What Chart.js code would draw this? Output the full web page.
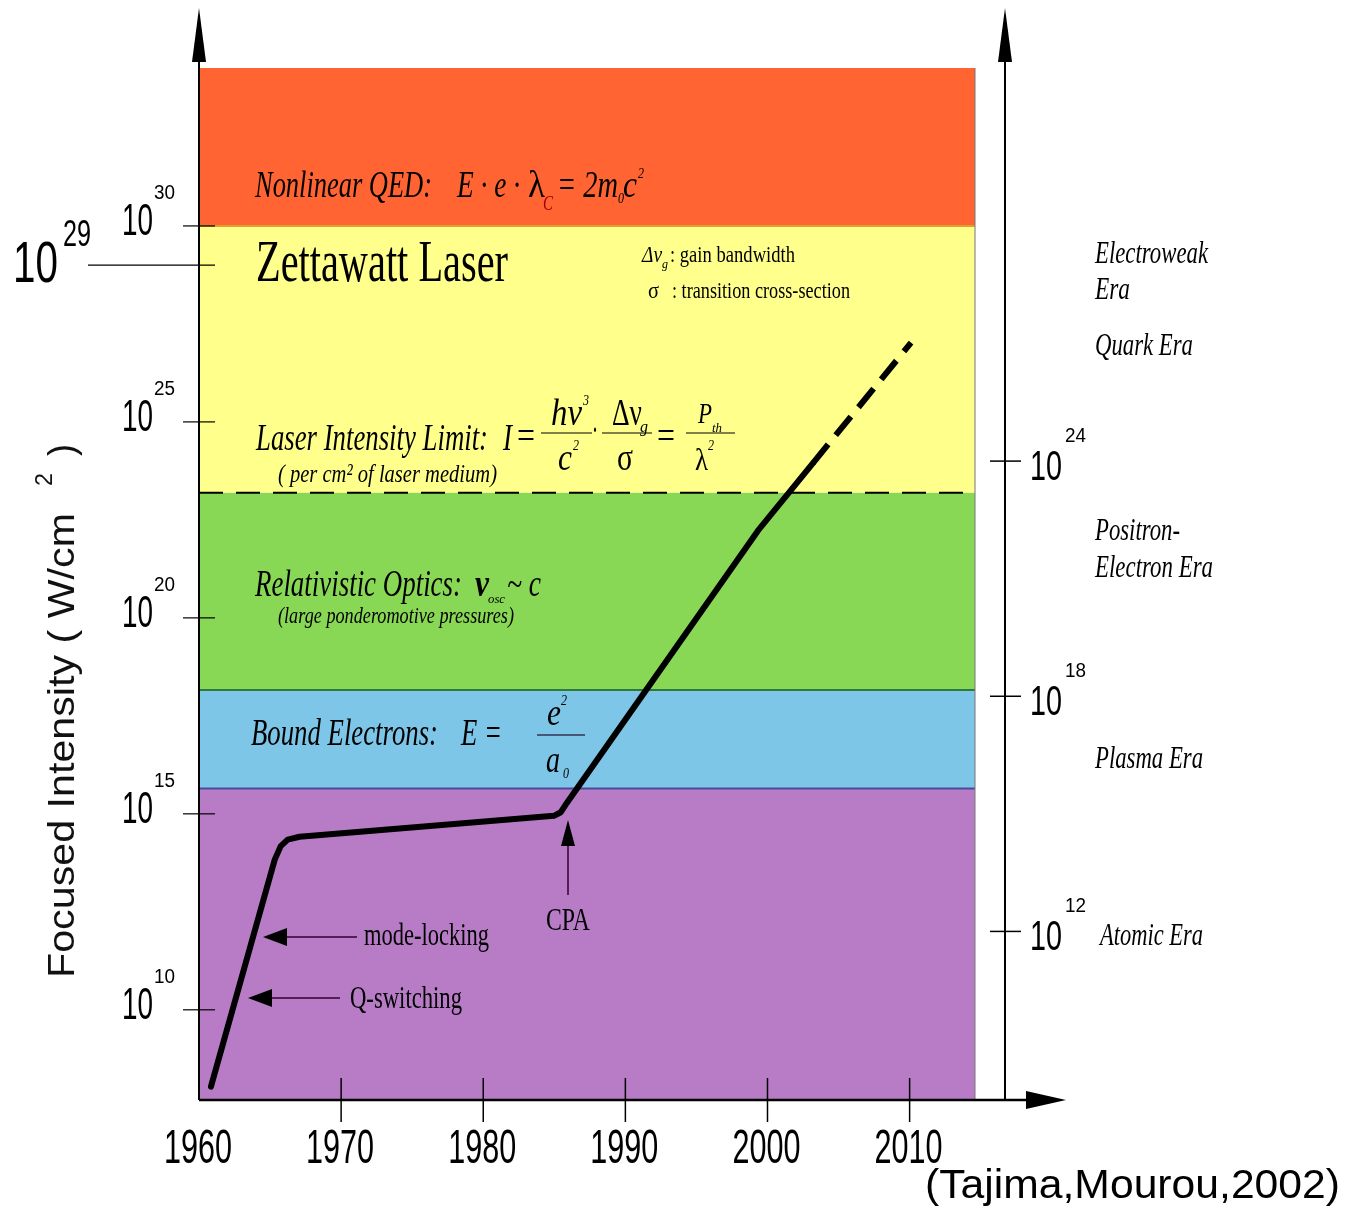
<!DOCTYPE html>
<html>
<head>
<meta charset="utf-8">
<script src="https://cdn.jsdelivr.net/npm/chart.js@4.4.0/dist/chart.umd.min.js"></script>
<style>
  body { margin: 0; background: #fff; }
  canvas { display: block; }
</style>
</head>
<body>
<canvas id="chart" width="1349" height="1209"></canvas>
<script>
// laser peak intensity history
const years = [1960.84, 1965.33, 1965.75, 1966.24, 1967.08, 1984.97, 1985.46, 1985.88, 1999.34, 2003.2];
const intensity = [1.1e8, 6.8e13, 1.5e14, 2.2e14, 2.6e14, 8.9e14, 1.1e15, 1.9e15, 1.7e22, 8.9e23];
const projYears = [2003.2, 2010.1];
const projIntensity = [8.9e23, 1.05e27];

// regime bands, top to bottom
const bandEdges = [1.07e34, 1e30, 1.55e23, 1.45e18, 4.4e15, 5e7];
const bandColors = ['#FF6432', '#FFFF8C', '#88D856', '#7EC6E8', '#B77CC5'];
const bandLines = ['#E0A030', null, '#2E7A3C', '#4A4A9A'];
const limitIntensity = 1.55e23;

const yearTicks = [1960, 1970, 1980, 1990, 2000, 2010];
const leftTickExp = [10, 15, 20, 25, 30];
const rightTickExp = [12, 18, 24];
const bigTickExp = 29;

const ctxEl = document.getElementById('chart');

function fit(ctx, str, x, y, w, font, color) {
    ctx.save();
    ctx.font = font;
    const m = ctx.measureText(str).width;
    ctx.translate(x, y);
    ctx.scale(w / m, 1);
    ctx.fillStyle = color || '#000';
    ctx.textAlign = 'left';
    ctx.textBaseline = 'alphabetic';
    ctx.fillText(str, 0, 0);
    ctx.restore();
}

function line(ctx, x1, y1, x2, y2, w, color) {
    ctx.save();
    ctx.strokeStyle = color || '#000';
    ctx.lineWidth = w;
    ctx.beginPath();
    ctx.moveTo(x1, y1);
    ctx.lineTo(x2, y2);
    ctx.stroke();
    ctx.restore();
}

function tri(ctx, pts) {
    ctx.save();
    ctx.fillStyle = '#000';
    ctx.beginPath();
    ctx.moveTo(pts[0], pts[1]);
    ctx.lineTo(pts[2], pts[3]);
    ctx.lineTo(pts[4], pts[5]);
    ctx.closePath();
    ctx.fill();
    ctx.restore();
}

const SI = 'italic 38px "Liberation Serif"';
const SR = '38px "Liberation Serif"';
const SANS = '"Liberation Sans"';

const bandsPlugin = {
    id: 'bands',
    beforeDatasetsDraw(chart) {
        const { ctx, chartArea: a, scales: { y } } = chart;
        ctx.save();
        for (let i = 0; i < bandColors.length; i++) {
            const t = y.getPixelForValue(bandEdges[i]);
            const b = y.getPixelForValue(bandEdges[i + 1]);
            ctx.fillStyle = bandColors[i];
            ctx.fillRect(a.left, t, a.right - a.left, b - t);
        }
        for (let i = 0; i < bandLines.length; i++) {
            if (!bandLines[i]) continue;
            const yy = y.getPixelForValue(bandEdges[i + 1]);
            line(ctx, a.left, yy, a.right, yy, 2, bandLines[i]);
        }
        line(ctx, a.right, a.top, a.right, a.bottom, 1, '#777');
        ctx.restore();
    }
};

const decorPlugin = {
    id: 'decor',
    afterDraw(chart) {
        const { ctx, chartArea: a, scales: { x, y } } = chart;
        const rx = 1005;

        // axes with arrows
        line(ctx, a.left, 58, a.left, a.bottom, 2);
        tri(ctx, [a.left, 8, a.left - 7, 62, a.left + 7, 62]);
        line(ctx, rx, 58, rx, a.bottom, 2);
        tri(ctx, [rx, 8, rx - 7, 62, rx + 7, 62]);
        line(ctx, a.left, a.bottom, 1030, a.bottom, 2.5);
        tri(ctx, [1066, a.bottom, 1026, a.bottom - 9, 1026, a.bottom + 9]);

        // x ticks
        yearTicks.forEach(yr => {
            const px = x.getPixelForValue(yr);
            if (yr > 1960) line(ctx, px, a.bottom - 22, px, a.bottom + 22, 1.5);
            fit(ctx, String(yr), px - 35, 1163, 68, '48px ' + SANS);
        });

        // left ticks
        leftTickExp.forEach(e => {
            const py = y.getPixelForValue(Math.pow(10, e));
            line(ctx, 183, py, 215, py, 1.2);
            fit(ctx, '10', 122, py + 9, 31, '45px ' + SANS);
            fit(ctx, String(e), 154, py - 27, 21, '20px ' + SANS);
        });
        const p29 = y.getPixelForValue(Math.pow(10, bigTickExp));
        line(ctx, 88, p29, 215, p29, 1.2);
        fit(ctx, '10', 13, p29 + 17, 45, '58px ' + SANS);
        fit(ctx, String(bigTickExp), 63, p29 - 19, 28, '37px ' + SANS);

        // right ticks
        rightTickExp.forEach(e => {
            const py = y.getPixelForValue(Math.pow(10, e));
            line(ctx, 990, py, 1021, py, 1.5);
            fit(ctx, '10', 1030, py + 19, 32, '42px ' + SANS);
            fit(ctx, String(e), 1065, py - 19, 21, '20px ' + SANS);
        });

        // y title
        ctx.save();
        ctx.translate(74, 978);
        ctx.rotate(-Math.PI / 2);
        fit(ctx, 'Focused Intensity ( W/cm', 0, 0, 465, '36px ' + SANS, '#111');
        fit(ctx, '2', 492, -22, 13, '24px ' + SANS, '#111');
        fit(ctx, ')', 522, 0, 12, '36px ' + SANS, '#111');
        ctx.restore();

        // band texts
        fit(ctx, 'Nonlinear QED:', 255, 197, 177, SI);
        fit(ctx, 'E · e · ', 457, 197, 70, SI);
        fit(ctx, 'λ', 528, 197, 17, SR);
        fit(ctx, 'C', 543, 210, 10, 'italic 20px "Liberation Serif"', '#A00000');
        fit(ctx, '= 2m', 557, 197, 61, SI);
        fit(ctx, '0', 618, 203, 6, 'italic 14px "Liberation Serif"');
        fit(ctx, 'c', 623, 197, 14, SI);
        fit(ctx, '2', 638, 178, 6, 'italic 14px "Liberation Serif"');

        fit(ctx, 'Zettawatt Laser', 256, 281, 252, '60px "Liberation Serif"');
        fit(ctx, 'Δν', 642, 262, 20, 'italic 23px "Liberation Serif"');
        fit(ctx, 'g', 662, 268, 6, 'italic 13px "Liberation Serif"');
        fit(ctx, ': gain bandwidth', 670, 262, 125, '23px "Liberation Serif"');
        fit(ctx, 'σ', 648, 298, 11, '23px "Liberation Serif"');
        fit(ctx, ': transition cross-section', 672, 298, 178, '23px "Liberation Serif"');

        fit(ctx, 'Laser Intensity Limit:', 256, 450, 232, SI);
        fit(ctx, 'I', 503, 450, 9, SI);
        fit(ctx, '=', 517, 448, 18, SR);
        fit(ctx, 'hν', 551, 425, 31, SI);
        fit(ctx, '3', 583, 405, 6, 'italic 14px "Liberation Serif"');
        line(ctx, 541, 433, 592, 433, 1.2);
        fit(ctx, 'c', 558, 470, 14, SI);
        fit(ctx, '2', 573, 450, 6, 'italic 14px "Liberation Serif"');
        fit(ctx, '·', 592, 442, 6, SR);
        fit(ctx, 'Δν', 612, 425, 30, SR);
        fit(ctx, 'g', 640, 432, 8, 'italic 16px "Liberation Serif"');
        line(ctx, 602, 433, 652, 433, 1.2);
        fit(ctx, 'σ', 617, 470, 16, SR);
        fit(ctx, '=', 657, 448, 18, SR);
        fit(ctx, 'P', 698, 423, 14, 'italic 30px "Liberation Serif"');
        fit(ctx, 'th', 712, 432, 10, 'italic 13px "Liberation Serif"');
        line(ctx, 686, 433, 735, 433, 1.2);
        fit(ctx, 'λ', 695, 470, 13, '32px "Liberation Serif"');
        fit(ctx, '2', 708, 450, 6, 'italic 14px "Liberation Serif"');
        fit(ctx, '( per cm² of laser medium)', 278, 482, 219, 'italic 26px "Liberation Serif"');

        fit(ctx, 'Relativistic Optics:', 255, 596, 207, SI);
        fit(ctx, 'ν', 475, 596, 14, 'bold italic 38px "Liberation Serif"');
        fit(ctx, 'osc', 488, 603, 17, 'italic 13px "Liberation Serif"');
        fit(ctx, '~ c', 507, 596, 34, SI);
        fit(ctx, '(large ponderomotive pressures)', 278, 623, 236, 'italic 24px "Liberation Serif"');

        fit(ctx, 'Bound Electrons:', 251, 745, 187, SI);
        fit(ctx, 'E =', 461, 745, 41, SI);
        fit(ctx, 'e', 547, 725, 14, SI);
        fit(ctx, '2', 561, 705, 6, 'italic 14px "Liberation Serif"');
        line(ctx, 537, 735, 585, 735, 1.5, '#335');
        fit(ctx, 'a', 546, 772, 14, SI);
        fit(ctx, '0', 563, 778, 6, 'italic 14px "Liberation Serif"');

        // technique labels and arrows
        fit(ctx, 'mode-locking', 364, 945, 125, '32px "Liberation Serif"');
        line(ctx, 357, 937, 275, 937, 1.5, '#300030');
        tri(ctx, [263, 937, 287, 928, 287, 946]);
        fit(ctx, 'Q-switching', 350, 1008, 112, '32px "Liberation Serif"');
        line(ctx, 340, 998, 260, 998, 1.5, '#300030');
        tri(ctx, [248, 998, 272, 989, 272, 1007]);
        fit(ctx, 'CPA', 546, 930, 44, '32px "Liberation Serif"');
        line(ctx, 568, 895, 568, 835, 1.5, '#300030');
        tri(ctx, [568, 820, 561, 846, 575, 846]);

        // eras
        const ER = 'italic 31px "Liberation Serif"';
        fit(ctx, 'Electroweak', 1095, 263, 113, ER);
        fit(ctx, 'Era', 1095, 299, 35, ER);
        fit(ctx, 'Quark Era', 1095, 355, 98, ER);
        fit(ctx, 'Positron-', 1095, 540, 85, ER);
        fit(ctx, 'Electron Era', 1095, 577, 118, ER);
        fit(ctx, 'Plasma Era', 1095, 768, 108, ER);
        fit(ctx, 'Atomic Era', 1100, 945, 103, ER);

        fit(ctx, '(Tajima,Mourou,2002)', 925, 1198, 415, '40px ' + SANS);
    }
};

new Chart(ctxEl, {
    type: 'line',
    data: {
        datasets: [
            {
                data: years.map((yr, i) => ({ x: yr, y: intensity[i] })),
                borderColor: '#000',
                borderWidth: 6,
                pointRadius: 0,
                borderJoinStyle: 'round',
                borderCapStyle: 'round',
                fill: false,
            },
            {
                data: projYears.map((yr, i) => ({ x: yr, y: projIntensity[i] })),
                borderColor: '#000',
                borderWidth: 6,
                borderDash: [24, 12],
                pointRadius: 0,
                fill: false,
            },
            {
                data: [{ x: 1960, y: limitIntensity }, { x: 2014.6, y: limitIntensity }],
                borderColor: '#000',
                borderWidth: 2,
                borderDash: [24, 13],
                pointRadius: 0,
                fill: false,
            },
        ],
    },
    options: {
        responsive: false,
        animation: false,
        layout: { padding: { left: 199, top: 68, right: 374, bottom: 109 } },
        scales: {
            x: { type: 'linear', min: 1960, max: 2014.6, display: false },
            y: { type: 'logarithmic', min: 5e7, max: 1.07e34, display: false },
        },
        plugins: { legend: { display: false }, tooltip: { enabled: false } },
    },
    plugins: [bandsPlugin, decorPlugin],
});
</script>
</body>
</html>
